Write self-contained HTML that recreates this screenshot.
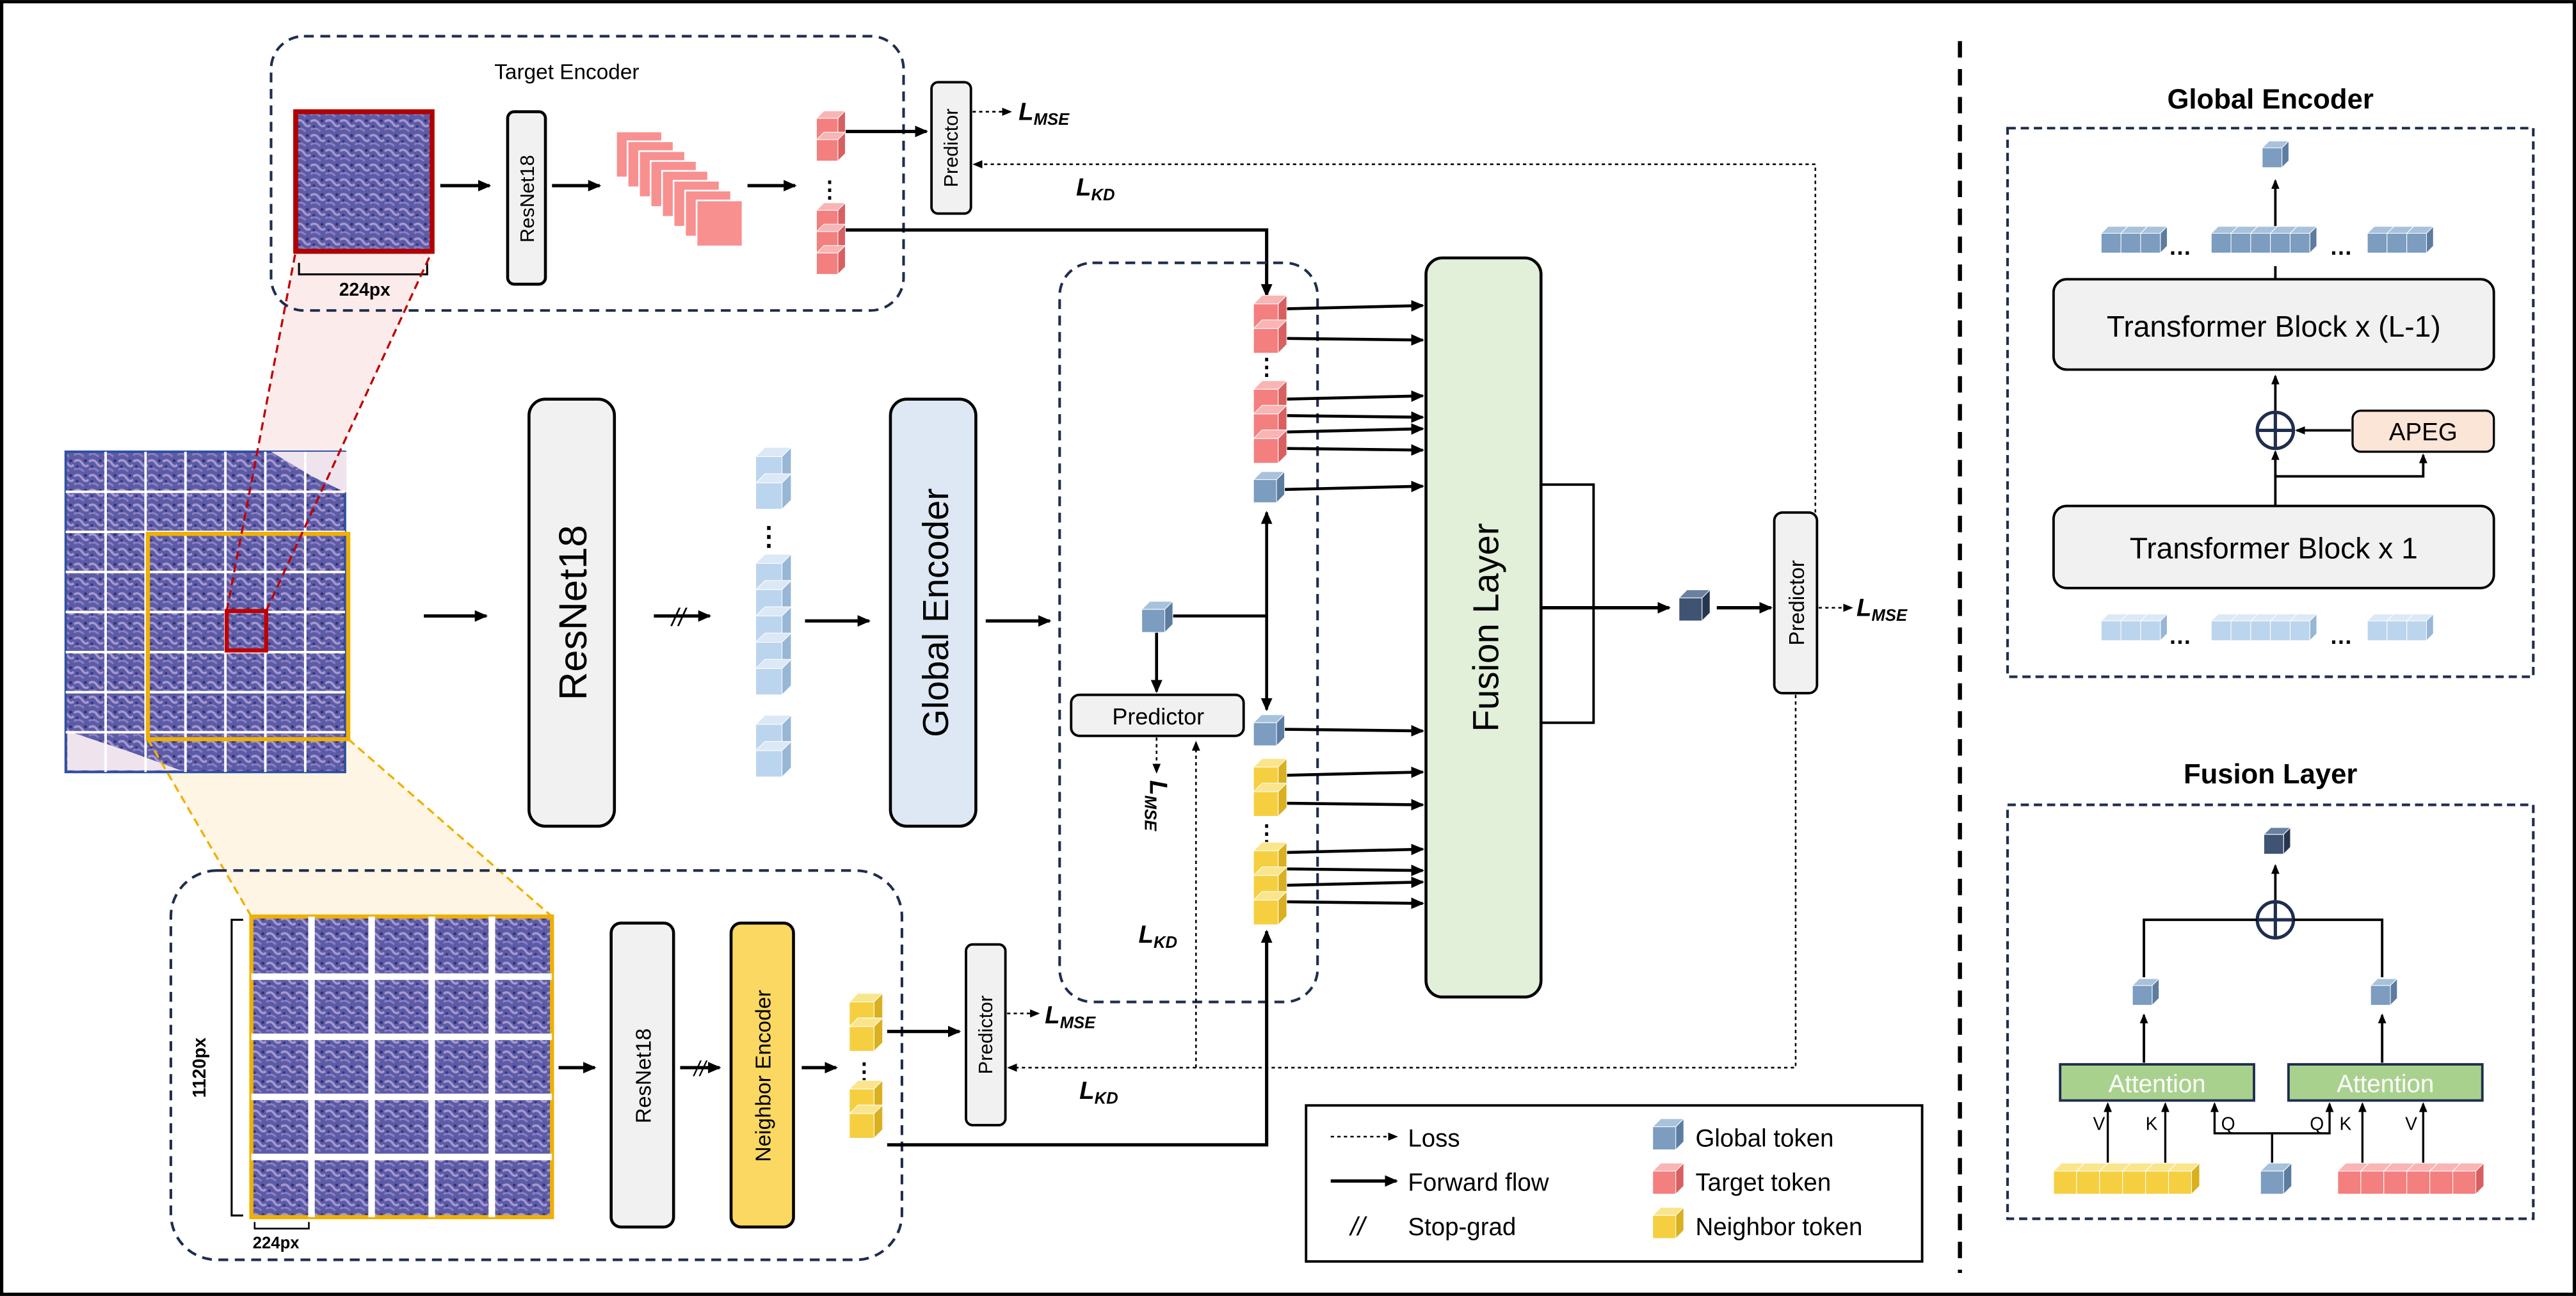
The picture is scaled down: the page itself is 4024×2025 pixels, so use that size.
<!DOCTYPE html>
<html><head><meta charset="utf-8"><style>
html,body{margin:0;padding:0;background:#fff;}
svg{display:block;}
text{font-family:"Liberation Sans",sans-serif;}
</style></head><body>
<svg id="s" width="4024" height="2025" viewBox="0 0 1568 789" xmlns="http://www.w3.org/2000/svg">
<defs>
<marker id="a" markerWidth="8" markerHeight="8" refX="7" refY="4" orient="auto" markerUnits="userSpaceOnUse"><path d="M0,0.5 L8,4 L0,7.5 z" fill="#000"/></marker>
<marker id="as" markerWidth="6" markerHeight="6" refX="5" refY="3" orient="auto" markerUnits="userSpaceOnUse"><path d="M0,0.5 L6,3 L0,5.5 z" fill="#000"/></marker>
<pattern id="tis" width="9" height="9" patternUnits="userSpaceOnUse">
<rect width="9" height="9" fill="#5c5ca6"/>
<path d="M0,2 Q3,0 5,3 T9,4" stroke="#a898d0" stroke-width="1.4" fill="none"/>
<path d="M0,7 Q3,5 6,8" stroke="#8e80c4" stroke-width="1.2" fill="none"/>
<circle cx="7" cy="1.5" r="0.9" fill="#303078"/><circle cx="2" cy="5" r="0.9" fill="#38388a"/>
</pattern>
</defs>
<rect x="1" y="1" width="1566" height="787" fill="#fff" stroke="#000" stroke-width="2"/>
<line x1="1193" y1="25" x2="1193" y2="775" stroke="#000" stroke-width="2.5" stroke-dasharray="10,7"/>

<polygon points="138,372 162,372 263,153 180,153" fill="#fbe3e3" opacity="0.7"/>
<polygon points="90,450 212,450 336,558 153,558" fill="#fdf1d8" opacity="0.7"/>

<rect x="165" y="22" width="385" height="167" rx="20" fill="none" stroke="#1f2d4e" stroke-width="1.6" stroke-dasharray="6,4"/>
<text x="345" y="48" font-size="13" text-anchor="middle">Target Encoder</text>
<rect x="180" y="68" width="83" height="85" fill="url(#tis)" stroke="#b00000" stroke-width="3"/>
<path d="M182,160 v7 h78 v-7" fill="none" stroke="#000" stroke-width="1.2"/>
<text x="222" y="180" font-size="11" font-weight="bold" text-anchor="middle">224px</text>
<line x1="268" y1="113" x2="298" y2="113" stroke="#000" stroke-width="2" marker-end="url(#a)"/>
<rect x="309" y="68" width="23" height="105" rx="4" fill="#f1f1f1" stroke="#000" stroke-width="1.8"/>
<text transform="translate(325,121) rotate(-90)" font-size="12" text-anchor="middle">ResNet18</text>
<line x1="336" y1="113" x2="365" y2="113" stroke="#000" stroke-width="2" marker-end="url(#a)"/>
<g id="fm"></g>
<line x1="455" y1="113" x2="484" y2="113" stroke="#000" stroke-width="2" marker-end="url(#a)"/>
<text x="505" y="120" font-size="14" font-weight="bold" text-anchor="middle">⋮</text>

<line x1="514" y1="80" x2="564" y2="80" stroke="#000" stroke-width="2" marker-end="url(#a)"/>
<rect x="567" y="50" width="24" height="80" rx="4" fill="#f1f1f1" stroke="#000" stroke-width="1.5"/>
<text transform="translate(583,90) rotate(-90)" font-size="12" text-anchor="middle">Predictor</text>
<line x1="592" y1="68" x2="615" y2="68" stroke="#000" stroke-width="1" stroke-dasharray="2,2" marker-end="url(#as)"/>
<text x="620" y="73" font-size="15" font-weight="bold" font-style="italic" font-family="Liberation Serif">L<tspan font-size="10" dy="3">MSE</tspan></text>
<text x="655" y="119" font-size="15" font-weight="bold" font-style="italic" font-family="Liberation Serif">L<tspan font-size="10" dy="3">KD</tspan></text>
<polyline points="1105,312 1105,100 593,100" fill="none" stroke="#000" stroke-width="1" stroke-dasharray="2,2" marker-end="url(#as)"/>
<polyline points="514,140 771,140 771,180" fill="none" stroke="#000" stroke-width="2" marker-end="url(#a)"/>

<rect x="40" y="275" width="170" height="195" fill="url(#tis)" stroke="#3050a0" stroke-width="1.5"/>
<g id="wsigrid"></g>
<rect x="90" y="325" width="122" height="125" fill="none" stroke="#f0b000" stroke-width="2.5"/>
<rect x="138" y="372" width="24" height="24" fill="none" stroke="#c00000" stroke-width="2.5"/>
<line x1="138" y1="372" x2="180" y2="153" stroke="#c00000" stroke-width="1.3" stroke-dasharray="5,3"/>
<line x1="162" y1="372" x2="263" y2="153" stroke="#c00000" stroke-width="1.3" stroke-dasharray="5,3"/>
<line x1="90" y1="450" x2="153" y2="558" stroke="#f0b000" stroke-width="1.3" stroke-dasharray="5,3"/>
<line x1="212" y1="450" x2="336" y2="558" stroke="#f0b000" stroke-width="1.3" stroke-dasharray="5,3"/>

<line x1="258" y1="375" x2="296" y2="375" stroke="#000" stroke-width="2" marker-end="url(#a)"/>
<rect x="322" y="243" width="52" height="260" rx="10" fill="#f1f1f1" stroke="#000" stroke-width="1.8"/>
<text transform="translate(357,373) rotate(-90)" font-size="24" text-anchor="middle">ResNet18</text>
<line x1="398" y1="375" x2="432" y2="375" stroke="#000" stroke-width="2" marker-end="url(#a)"/>
<text x="413" y="381" font-size="15" font-style="italic" text-anchor="middle">//</text>
<text x="468" y="332" font-size="16" font-weight="bold" text-anchor="middle">⋮</text>
<text x="468" y="448" font-size="16" font-weight="bold" text-anchor="middle">⋮</text>
<line x1="490" y1="378" x2="529" y2="378" stroke="#000" stroke-width="2" marker-end="url(#a)"/>
<rect x="542" y="243" width="52" height="260" rx="10" fill="#dde8f4" stroke="#000" stroke-width="1.8"/>
<text transform="translate(577,373) rotate(-90)" font-size="22" text-anchor="middle">Global Encoder</text>
<line x1="600" y1="378" x2="639" y2="378" stroke="#000" stroke-width="2" marker-end="url(#a)"/>

<rect x="645" y="160" width="157" height="450" rx="20" fill="none" stroke="#1f2d4e" stroke-width="1.6" stroke-dasharray="6,4"/>
<text x="771" y="228" font-size="14" font-weight="bold" text-anchor="middle">⋮</text>
<text x="771" y="512" font-size="14" font-weight="bold" text-anchor="middle">⋮</text>
<polyline points="713,375 771,375" fill="none" stroke="#000" stroke-width="1.8"/>
<line x1="771" y1="375" x2="771" y2="312" stroke="#000" stroke-width="1.8" marker-end="url(#a)"/>
<line x1="771" y1="375" x2="771" y2="432" stroke="#000" stroke-width="1.8" marker-end="url(#a)"/>
<line x1="704" y1="385" x2="704" y2="421" stroke="#000" stroke-width="1.8" marker-end="url(#a)"/>
<rect x="652" y="423" width="105" height="25" rx="5" fill="#f1f1f1" stroke="#000" stroke-width="1.5"/>
<text x="705" y="441" font-size="14" text-anchor="middle">Predictor</text>
<line x1="704" y1="449" x2="704" y2="470" stroke="#000" stroke-width="1" stroke-dasharray="2,2" marker-end="url(#as)"/>
<text transform="translate(700,475) rotate(90)" font-size="15" font-weight="bold" font-style="italic" font-family="Liberation Serif">L<tspan font-size="10" dy="3">MSE</tspan></text>
<text x="693" y="574" font-size="15" font-weight="bold" font-style="italic" font-family="Liberation Serif">L<tspan font-size="10" dy="3">KD</tspan></text>
<g id="arrows"></g>

<rect x="868" y="157" width="70" height="450" rx="10" fill="#e2efd9" stroke="#000" stroke-width="1.8"/>
<text transform="translate(912,382) rotate(-90)" font-size="22" text-anchor="middle">Fusion Layer</text>
<polyline points="938,295 970,295 970,440 938,440" fill="none" stroke="#000" stroke-width="1.5"/>
<line x1="938" y1="370" x2="1016" y2="370" stroke="#000" stroke-width="2" marker-end="url(#a)"/>
<line x1="1045" y1="370" x2="1078" y2="370" stroke="#000" stroke-width="2" marker-end="url(#a)"/>
<rect x="1080" y="312" width="26" height="110" rx="5" fill="#f1f1f1" stroke="#000" stroke-width="1.5"/>
<text transform="translate(1098,367) rotate(-90)" font-size="13" text-anchor="middle">Predictor</text>
<line x1="1107" y1="370" x2="1127" y2="370" stroke="#000" stroke-width="1" stroke-dasharray="2,2" marker-end="url(#as)"/>
<text x="1130" y="375" font-size="15" font-weight="bold" font-style="italic" font-family="Liberation Serif">L<tspan font-size="10" dy="3">MSE</tspan></text>
<polyline points="1093,423 1093,650 728,650 728,452" fill="none" stroke="#000" stroke-width="1" stroke-dasharray="2,2" marker-end="url(#as)"/>
<line x1="728" y1="650" x2="614" y2="650" stroke="#000" stroke-width="1" stroke-dasharray="2,2" marker-end="url(#as)"/>

<rect x="104" y="530" width="445" height="237" rx="28" fill="none" stroke="#1f2d4e" stroke-width="1.6" stroke-dasharray="6,4"/>
<rect x="153" y="558" width="183" height="183" fill="url(#tis)" stroke="#f0b000" stroke-width="2.5"/>
<g id="nbgrid"></g>
<path d="M148,560 h-7 v180 h7" fill="none" stroke="#000" stroke-width="1.2"/>
<text transform="translate(125,650) rotate(-90)" font-size="11" font-weight="bold" text-anchor="middle">1120px</text>
<path d="M155,744 v4 h33 v-4" fill="none" stroke="#000" stroke-width="1"/>
<text x="168" y="760" font-size="10" font-weight="bold" text-anchor="middle">224px</text>
<line x1="340" y1="650" x2="362" y2="650" stroke="#000" stroke-width="2" marker-end="url(#a)"/>
<rect x="372" y="562" width="38" height="185" rx="6" fill="#f1f1f1" stroke="#000" stroke-width="1.8"/>
<text transform="translate(396,655) rotate(-90)" font-size="13" text-anchor="middle">ResNet18</text>
<line x1="414" y1="650" x2="438" y2="650" stroke="#000" stroke-width="2" marker-end="url(#a)"/>
<text x="426" y="655" font-size="13" font-style="italic" text-anchor="middle">//</text>
<rect x="445" y="562" width="38" height="185" rx="6" fill="#fad862" stroke="#000" stroke-width="1.8"/>
<text transform="translate(469,655) rotate(-90)" font-size="13" text-anchor="middle">Neighbor Encoder</text>
<line x1="488" y1="650" x2="509" y2="650" stroke="#000" stroke-width="2" marker-end="url(#a)"/>
<text x="526" y="657" font-size="14" font-weight="bold" text-anchor="middle">⋮</text>
<line x1="540" y1="628" x2="584" y2="628" stroke="#000" stroke-width="2" marker-end="url(#a)"/>
<rect x="588" y="575" width="24" height="110" rx="4" fill="#f1f1f1" stroke="#000" stroke-width="1.5"/>
<text transform="translate(604,630) rotate(-90)" font-size="12" text-anchor="middle">Predictor</text>
<line x1="613" y1="617" x2="632" y2="617" stroke="#000" stroke-width="1" stroke-dasharray="2,2" marker-end="url(#as)"/>
<text x="636" y="623" font-size="15" font-weight="bold" font-style="italic" font-family="Liberation Serif">L<tspan font-size="10" dy="3">MSE</tspan></text>
<text x="657" y="669" font-size="15" font-weight="bold" font-style="italic" font-family="Liberation Serif">L<tspan font-size="10" dy="3">KD</tspan></text>
<polyline points="540,697 771,697 771,567" fill="none" stroke="#000" stroke-width="2" marker-end="url(#a)"/>

<rect x="795" y="673" width="375" height="95" fill="#fff" stroke="#000" stroke-width="1.5"/>
<line x1="810" y1="692" x2="850" y2="692" stroke="#000" stroke-width="1" stroke-dasharray="2,2" marker-end="url(#as)"/>
<text x="857" y="698" font-size="15">Loss</text>
<line x1="810" y1="719" x2="850" y2="719" stroke="#000" stroke-width="2" marker-end="url(#a)"/>
<text x="857" y="725" font-size="15">Forward flow</text>
<text x="822" y="752" font-size="16" font-style="italic">//</text>
<text x="857" y="752" font-size="15">Stop-grad</text>
<text x="1032" y="698" font-size="15">Global token</text>
<text x="1032" y="725" font-size="15">Target token</text>
<text x="1032" y="752" font-size="15">Neighbor token</text>

<text x="1382" y="66" font-size="17" font-weight="bold" text-anchor="middle">Global Encoder</text>
<rect x="1222" y="78" width="320" height="334" fill="none" stroke="#1f2d4e" stroke-width="1.6" stroke-dasharray="5,3"/>
<line x1="1385" y1="138" x2="1385" y2="110" stroke="#000" stroke-width="1.5" marker-end="url(#as)"/>
<text x="1320" y="155" font-size="14" font-weight="bold">…</text>
<text x="1418" y="155" font-size="14" font-weight="bold">…</text>
<line x1="1385" y1="170" x2="1385" y2="162" stroke="#000" stroke-width="1.5"/>
<rect x="1250" y="170" width="268" height="55" rx="8" fill="#f1f1f1" stroke="#000" stroke-width="1.5"/>
<text x="1384" y="205" font-size="18" text-anchor="middle">Transformer Block x (L-1)</text>
<line x1="1385" y1="250" x2="1385" y2="229" stroke="#000" stroke-width="1.5" marker-end="url(#as)"/>
<circle cx="1385" cy="262" r="11" fill="#fff" stroke="#1f2d4e" stroke-width="2"/>
<path d="M1374,262 h22 M1385,251 v22" stroke="#1f2d4e" stroke-width="2"/>
<rect x="1432" y="250" width="86" height="25" rx="5" fill="#fbe5d6" stroke="#000" stroke-width="1.3"/>
<text x="1475" y="268" font-size="15" text-anchor="middle">APEG</text>
<line x1="1431" y1="262" x2="1398" y2="262" stroke="#000" stroke-width="1.5" marker-end="url(#as)"/>
<line x1="1385" y1="308" x2="1385" y2="275" stroke="#000" stroke-width="1.5" marker-end="url(#as)"/>
<polyline points="1385,290 1475,290 1475,277" fill="none" stroke="#000" stroke-width="1.5" marker-end="url(#as)"/>
<rect x="1250" y="308" width="268" height="50" rx="8" fill="#f1f1f1" stroke="#000" stroke-width="1.5"/>
<text x="1384" y="340" font-size="18" text-anchor="middle">Transformer Block x 1</text>
<text x="1320" y="392" font-size="14" font-weight="bold">…</text>
<text x="1418" y="392" font-size="14" font-weight="bold">…</text>

<text x="1382" y="477" font-size="17" font-weight="bold" text-anchor="middle">Fusion Layer</text>
<rect x="1222" y="490" width="320" height="252" fill="none" stroke="#1f2d4e" stroke-width="1.6" stroke-dasharray="5,3"/>
<line x1="1385" y1="548" x2="1385" y2="527" stroke="#000" stroke-width="1.5" marker-end="url(#as)"/>
<circle cx="1385" cy="560" r="11" fill="#fff" stroke="#1f2d4e" stroke-width="2"/>
<path d="M1374,560 h22 M1385,549 v22" stroke="#1f2d4e" stroke-width="2"/>
<polyline points="1305,595 1305,560 1374,560" fill="none" stroke="#000" stroke-width="1.5"/>
<polyline points="1450,595 1450,560 1396,560" fill="none" stroke="#000" stroke-width="1.5"/>
<line x1="1305" y1="647" x2="1305" y2="618" stroke="#000" stroke-width="1.5" marker-end="url(#as)"/>
<line x1="1450" y1="647" x2="1450" y2="618" stroke="#000" stroke-width="1.5" marker-end="url(#as)"/>
<rect x="1254" y="648" width="118" height="22" fill="#a9d18e" stroke="#1f2d4e" stroke-width="1.5"/>
<text x="1313" y="665" font-size="15" fill="#fff" text-anchor="middle">Attention</text>
<rect x="1393" y="648" width="118" height="22" fill="#a9d18e" stroke="#1f2d4e" stroke-width="1.5"/>
<text x="1452" y="665" font-size="15" fill="#fff" text-anchor="middle">Attention</text>
<line x1="1283" y1="708" x2="1283" y2="672" stroke="#000" stroke-width="1.3" marker-end="url(#as)"/>
<line x1="1318" y1="708" x2="1318" y2="672" stroke="#000" stroke-width="1.3" marker-end="url(#as)"/>
<polyline points="1383,708 1383,690 1348,690 1348,672" fill="none" stroke="#000" stroke-width="1.3" marker-end="url(#as)"/>
<polyline points="1383,690 1418,690 1418,672" fill="none" stroke="#000" stroke-width="1.3" marker-end="url(#as)"/>
<line x1="1438" y1="708" x2="1438" y2="672" stroke="#000" stroke-width="1.3" marker-end="url(#as)"/>
<line x1="1475" y1="708" x2="1475" y2="672" stroke="#000" stroke-width="1.3" marker-end="url(#as)"/>
<text x="1274" y="688" font-size="11">V</text><text x="1306" y="688" font-size="11">K</text>
<text x="1352" y="688" font-size="11">Q</text><text x="1406" y="688" font-size="11">Q</text>
<text x="1424" y="688" font-size="11">K</text><text x="1464" y="688" font-size="11">V</text>
<g id="cubes"></g>
</svg>
<script>
var NS="http://www.w3.org/2000/svg";
function el(p,t,a){var e=document.createElementNS(NS,t);for(var k in a)e.setAttribute(k,a[k]);document.getElementById(p).appendChild(e);return e;}
var C={b:["#7c9cc0","#a8c2dc","#5c7ca0"],r:["#f47f7f","#f9b4b4","#d86060"],y:["#f5cf40","#fbe58c","#d8b020"],l:["#bcd5ee","#dbe8f6","#98b6d6"],d:["#3e5472","#6a80a0","#26364e"]};
function cube(x,y,s,c){var d=s*0.35,k=C[c];
el("cubes","polygon",{points:[x,y,x+d,y-d,x+s+d,y-d,x+s,y].join(","),fill:k[1],stroke:"#fff","stroke-width":0.4});
el("cubes","polygon",{points:[x+s,y,x+s+d,y-d,x+s+d,y+s-d,x+s,y+s].join(","),fill:k[2],stroke:"#fff","stroke-width":0.4});
el("cubes","rect",{x:x,y:y,width:s,height:s,fill:k[0],stroke:"#fff","stroke-width":0.4});}
function col(x,y0,y1,s,c){for(var y=y0;y<=y1-s+0.1;y+=s)cube(x,y,s,c);}
function row(x0,x1,y,s,c){for(var x=x0;x<=x1-s+0.1;x+=s)cube(x,y,s,c);}
col(497,72,100,13,"r");col(497,128,168,13,"r");
for(var i=0;i<8;i++)el("fm","rect",{x:375+i*7,y:80+i*6,width:28,height:28,fill:"#f89090",stroke:"#fff","stroke-width":1});
col(460,278,310,16,"l");col(460,343,423,16,"l");col(460,441,473,16,"l");
col(763,185,215,15,"r");col(763,237,282,15,"r");cube(763,292,14,"b");
cube(763,440,14,"b");col(763,467,497,15,"y");col(763,518,563,15,"y");
cube(695,371,14,"b");cube(1022,364,14,"d");
col(517,610,640,15,"y");col(517,663,693,15,"y");
cube(1006,686,14,"b");cube(1006,713,14,"r");cube(1006,740,14,"y");
cube(1377,90,12,"b");
row(1279,1315,142,12,"b");row(1346,1414,142,12,"b");row(1441,1477,142,12,"b");
row(1279,1315,378,12,"l");row(1346,1414,378,12,"l");row(1441,1477,378,12,"l");
cube(1378,508,12,"d");cube(1298,600,12,"b");cube(1443,600,12,"b");
row(1250,1334,713,14,"y");cube(1376,713,14,"b");row(1423,1507,713,14,"r");
var ys=[188,206,243,253,263,273,298,444,472,489,519,529,539,549];
for(var j=0;j<ys.length;j++)el("arrows","line",{x1:782,y1:ys[j],x2:866,y2:ys[j]+(j%2?1:-2),stroke:"#000","stroke-width":1.8,"marker-end":"url(#a)"});
el("wsigrid","polygon",{points:"165,275 211,275 211,300 190,290",fill:"#efe4ee"});
el("wsigrid","polygon",{points:"41,445 41,469 110,469 80,458",fill:"#efe4ee"});
for(var g=1;g<7;g++){el("wsigrid","line",{x1:40+g*24.3,y1:275,x2:40+g*24.3,y2:470,stroke:"#fff","stroke-width":1.5});}
for(var g=1;g<8;g++){el("wsigrid","line",{x1:40,y1:275+g*24.4,x2:210,y2:275+g*24.4,stroke:"#fff","stroke-width":1.5});}
for(var g=1;g<5;g++){el("nbgrid","line",{x1:153+g*36.6,y1:558,x2:153+g*36.6,y2:741,stroke:"#fff","stroke-width":4});el("nbgrid","line",{x1:153,y1:558+g*36.6,x2:336,y2:558+g*36.6,stroke:"#fff","stroke-width":4});}
</script>
</body></html>
